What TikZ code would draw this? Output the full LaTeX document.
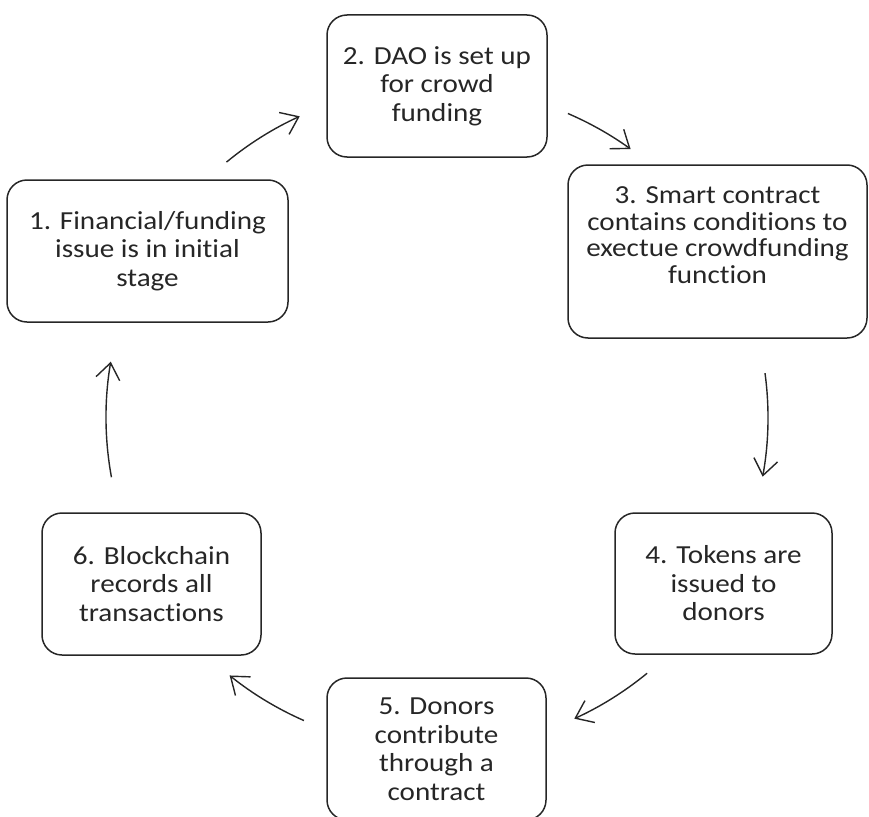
\documentclass[tikz,border=0pt]{standalone}
\usepackage{fontspec}
\setmainfont{Carlito}[FakeStretch=1.12, Ligatures=NoCommon]
\usetikzlibrary{arrows.meta}

\tikzset{
  stagebox/.style={draw=black!85, line width=1.5pt, rounded corners=20pt,
    align=center, inner sep=0pt, text=black!85,
    font=\fontsize{26}{28.5}\selectfont},
  cyc/.style={draw=black!85, line width=1.4pt,
    -{Straight Barb[length=16pt,width=24pt,line width=1.4pt]}}
}

\begin{document}
\begin{tikzpicture}[x=1pt,y=1pt]
		\useasboundingbox (0,0) rectangle (869,-816);
		\coordinate (hub) at (437,-417.5);

		\node[stagebox, minimum width=281pt, minimum height=142pt] (fund) at (147.5,-251)
			{1. Financial/funding\\issue is in initial\\stage};
		\node[stagebox, minimum width=220pt, minimum height=142pt] (dao) at (437,-86)
			{2. DAO is set up\\for crowd\\funding};
		\node[stagebox, minimum width=299pt, minimum height=173pt,
			font=\fontsize{26}{26.5}\selectfont] (smart) at (717.5,-251.5)
			{3. Smart contract\\contains conditions to\\exectue crowdfunding\\function\\[6pt]\mbox{}};
		\node[stagebox, minimum width=217pt, minimum height=141pt] (tokens) at (723.5,-583.5)
			{4. Tokens are\\issued to\\donors};
		\node[stagebox, minimum width=219pt, minimum height=142pt] (donors) at (436.5,-749)
			{5. Donors\\contribute\\through a\\contract};
		\node[stagebox, minimum width=219pt, minimum height=142pt] (chain) at (151.5,-584)
			{6. Blockchain\\records all\\transactions};

		% arrows follow the cycle round the hub
		\draw[cyc] ([shift={(129.5:331)}]hub) arc[start angle=129.5, end angle=114.5, radius=331];
		\draw[cyc] ([shift={(66.7:331)}]hub) arc[start angle=66.7, end angle=54.2, radius=331];
		\draw[cyc] ([shift={(7.7:331)}]hub) arc[start angle=7.7, end angle=-10.3, radius=331];
		\draw[cyc] ([shift={(-50.6:331)}]hub) arc[start angle=-50.6, end angle=-65.5, radius=331];
		\draw[cyc] ([shift={(-113.7:331)}]hub) arc[start angle=-113.7, end angle=-128.8, radius=331];
		\draw[cyc] ([shift={(190.4:331)}]hub) arc[start angle=190.4, end angle=170.3, radius=331];

	\end{tikzpicture}
\end{document}
